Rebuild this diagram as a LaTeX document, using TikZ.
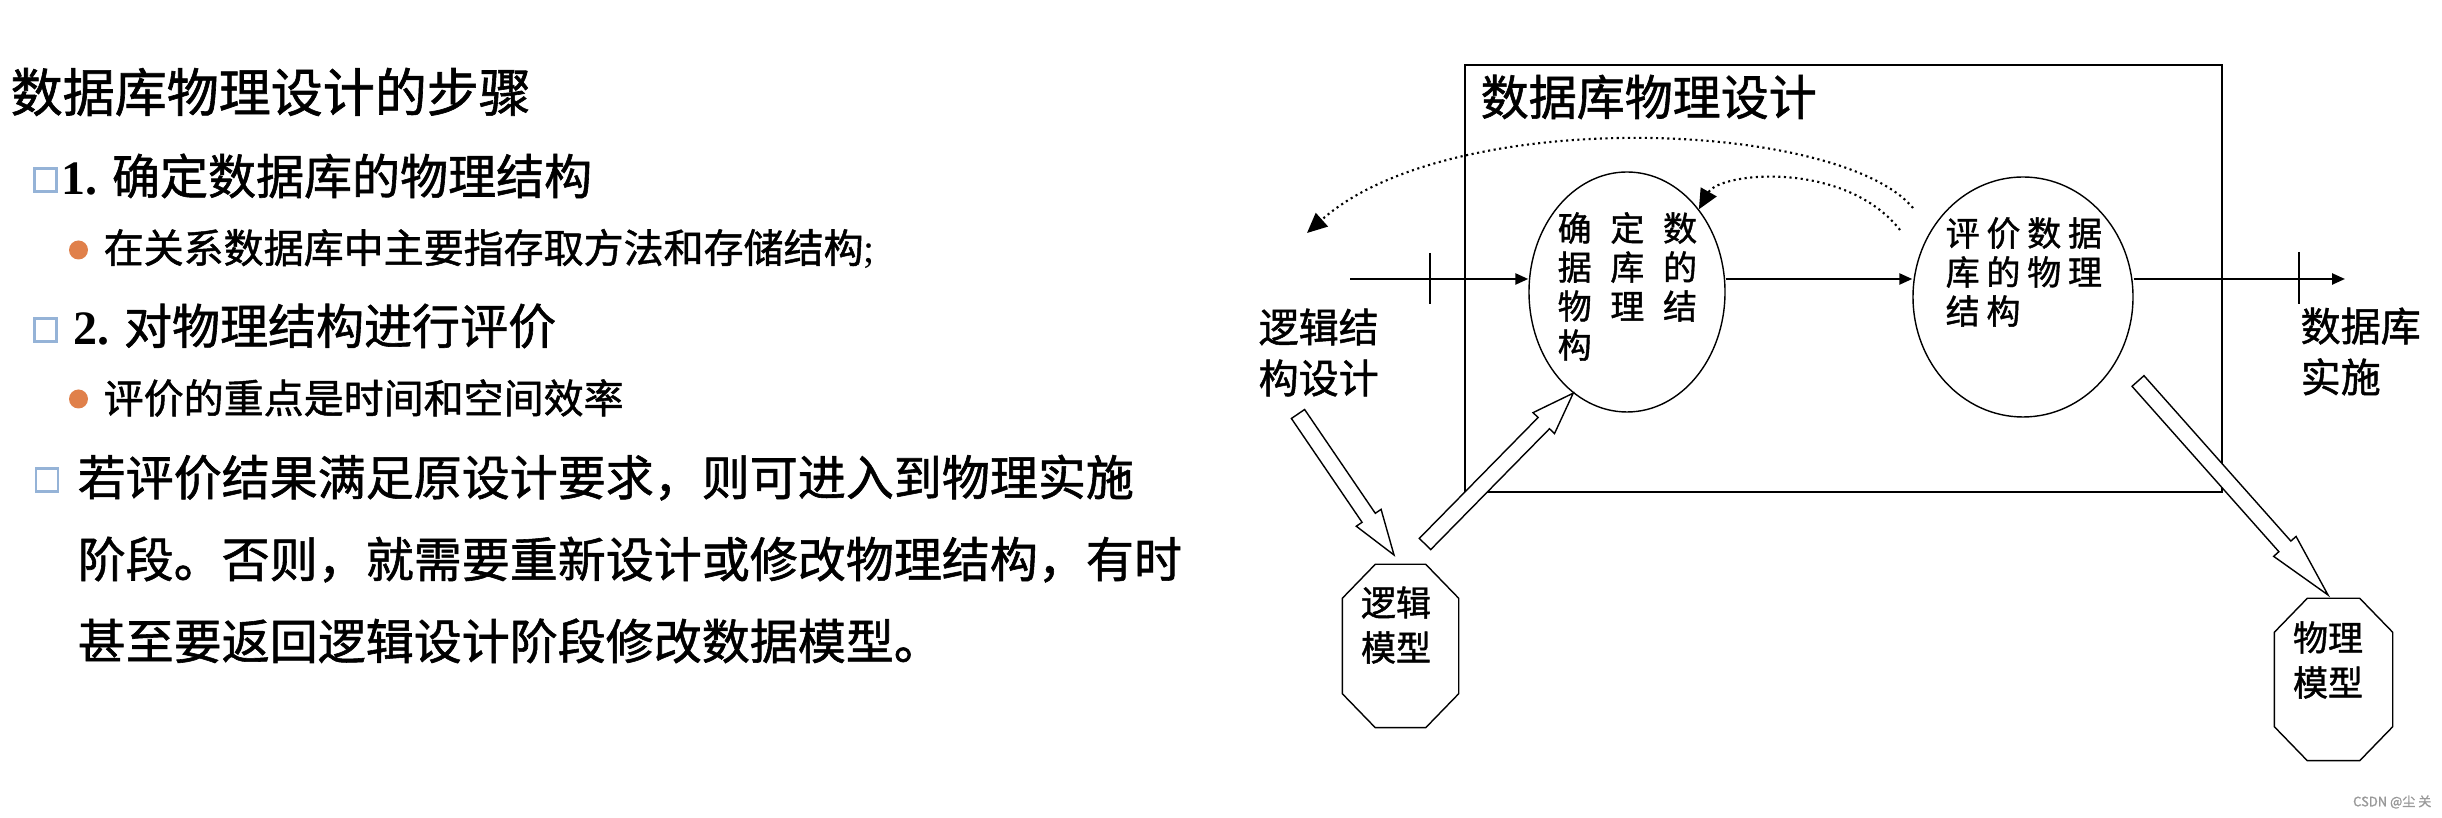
\documentclass[tikz,border=0pt]{standalone}
\usepackage{fontspec}
\setmainfont{Noto Sans CJK SC}[FakeBold=1.2]
\newfontfamily\latinfont{Liberation Serif}
\usepackage{xcolor}
\usepackage{tikz}
\usetikzlibrary{calc,arrows.meta,shapes.geometric}

\definecolor{boxblue}{HTML}{95B3D7}
\definecolor{dotorange}{HTML}{E0804A}

\newcommand{\sizetitle}{\fontsize{14.8pt}{18pt}\selectfont}
\newcommand{\sizeitem}{\fontsize{13.66pt}{23.3pt}\selectfont}
\newcommand{\sizesub}{\fontsize{11.38pt}{14pt}\selectfont}
\newcommand{\sizeside}{\fontsize{11.38pt}{14.5pt}\selectfont}
\newcommand{\sizecell}{\fontsize{9.67pt}{11.1pt}\selectfont}
\newcommand{\sizemodel}{\fontsize{9.96pt}{12.8pt}\selectfont}

% hollow block arrow: tail, tip, head length
\newcommand{\hollowarrow}[3]{%
  \coordinate (ha-n) at ($(#2)!#3!(#1)$);
  \draw[fatarrow] ($(#1)!0.08cm!90:(#2)$) -- ($(ha-n)!0.08cm!90:(#2)$)
    -- ($(ha-n)!0.15cm!90:(#2)$) -- (#2) -- ($(ha-n)!0.15cm!-90:(#2)$)
    -- ($(ha-n)!0.08cm!-90:(#2)$) -- ($(#1)!0.08cm!-90:(#2)$) -- cycle;}

% octagon round a box node
\newcommand{\octoutline}[1]{%
  \draw[octline] ($(#1.north west)+(0.33,0)$) -- ($(#1.north east)+(-0.33,0)$)
    -- ($(#1.north east)+(0,0.34)$) -- ($(#1.south east)+(0,-0.34)$)
    -- ($(#1.south east)+(-0.33,0)$) -- ($(#1.south west)+(0.33,0)$)
    -- ($(#1.south west)+(0,-0.34)$) -- ($(#1.north west)+(0,0.34)$) -- cycle;}

\begin{document}
\begin{tikzpicture}[y=-1cm,
  every node/.style={inner sep=0pt},
  txt/.style={anchor=west, align=left},
  sqbullet/.style={draw=boxblue, line width=0.7pt, fill=white, minimum width=0.22cm, minimum height=0.23cm},
  dotbullet/.style={circle, fill=dotorange, minimum size=0.19cm},
  proc/.style={draw, ellipse, line width=0.4pt},
  octbox/.style={rectangle},
  flow/.style={-{Triangle[length=0.13cm,width=0.11cm]}, line width=0.7pt},
  loopback/.style={densely dotted, line width=0.6pt, -{Triangle[length=0.2cm,width=0.18cm]}},
  fatarrow/.style={draw, fill=white, line width=0.4pt},
  octline/.style={draw, line width=0.4pt},
  tick/.style={line width=0.4pt}]
\fill[white] (0,0) rectangle (24.42,8.18);
\useasboundingbox (0,0) rectangle (24.42,8.18);

% left: the steps
\node[txt, font=\sizetitle] (steps) at (0.10,0.92) {数据库物理设计的步骤};
\node[sqbullet] (sq1) at (0.455,1.80) {};
\node[txt, font=\sizeitem] (item1) at (0.61,1.76) {{\latinfont\bfseries 1.} 确定数据库的物理结构};
\node[dotbullet] (dot1) at (0.785,2.50) {};
\node[txt, font=\sizesub] (sub1) at (1.03,2.49) {在关系数据库中主要指存取方法和存储结构{\latinfont ;}};
\node[sqbullet] (sq2) at (0.455,3.30) {};
\node[txt, font=\sizeitem] (item2) at (0.73,3.26) {{\latinfont\bfseries 2.} 对物理结构进行评价};
\node[dotbullet] (dot2) at (0.785,3.99) {};
\node[txt, font=\sizesub] (sub2) at (1.03,3.98) {评价的重点是时间和空间效率};
\node[sqbullet] (sq3) at (0.47,4.80) {};
\node[txt, font=\sizeitem] (item3) at (0.77,5.59) {若评价结果满足原设计要求，则可进入到物理实施\\阶段。否则，就需要重新设计或修改物理结构，有时\\甚至要返回逻辑设计阶段修改数据模型。};

% right: the design box
\node[draw, line width=0.6pt, minimum width=7.57cm, minimum height=4.27cm] (frame) at (18.435,2.785) {};
\node[txt, font=\sizeitem] (frametitle) at (14.80,0.97) {数据库物理设计};
\node[proc, minimum width=1.96cm, minimum height=2.40cm] (det) at (16.27,2.92) {};
\node[txt, font={\sizecell\addfontfeature{LetterSpace=55}}] (dettext) at (15.57,2.865) {确定数\\据库的\\物理结\\构};
\node[proc, minimum width=2.20cm, minimum height=2.40cm] (eva) at (20.23,2.97) {};
\node[txt, font={\sizecell\addfontfeature{LetterSpace=20}}] (evatext) at (19.45,2.72) {评价数据\\库的物理\\结构};
\node[txt, font=\sizeside] (logic) at (12.58,3.525) {逻辑结\\构设计};
\node[txt, font=\sizeside] (impl) at (23.00,3.515) {数据库\\实施};

\coordinate (in) at (13.50,2.79);
\coordinate (out) at (23.45,2.79);
\draw[flow] (in) -- (in -| det.west);
\draw[flow] (det.east |- in) -- (eva.west |- in);
\draw[flow] (eva.east |- in) -- (out);
\draw[tick] (14.30,2.53) -- (14.30,3.04);
\draw[tick] (22.99,2.52) -- (22.99,3.04);

% models
\node[octbox, minimum width=1.15cm, minimum height=1.62cm] (lgm) at (14.005,6.46) {};
\octoutline{lgm}
\node[font=\sizemodel, align=center] (lgmtext) at (13.96,6.25) {逻辑\\模型};
\node[octbox, minimum width=1.17cm, minimum height=1.61cm] (phm) at (23.335,6.795) {};
\octoutline{phm}
\node[font=\sizemodel, align=center] (phmtext) at (23.28,6.60) {物理\\模型};

% feedback loops
\coordinate (bigstart) at (19.13,2.08);
\coordinate (bigend) at (13.07,2.33);
\draw[loopback] (bigstart) .. controls (18.40,1.20) and (14.50,1.05) .. (bigend);
\coordinate (smallstart) at (19.00,2.30);
\draw[loopback] (smallstart) .. controls (18.45,1.60) and (17.20,1.72) .. (det.49);

% block arrows
\coordinate (lgtail) at (12.98,4.14);
\coordinate (lgtip) at (13.94,5.55);
\hollowarrow{lgtail}{lgtip}{0.45cm}
\coordinate (mdtail) at (14.25,5.44);
\hollowarrow{mdtail}{det.242}{0.42cm}
\coordinate (phtail) at (21.38,3.81);
\coordinate (phtip) at (23.28,5.95);
\hollowarrow{phtail}{phtip}{0.65cm}

\node[anchor=east, text=black!40, font=\fontsize{3.7pt}{4pt}\selectfont] (mark) at (24.32,8.02) {CSDN @尘 关};
\end{tikzpicture}
\end{document}
